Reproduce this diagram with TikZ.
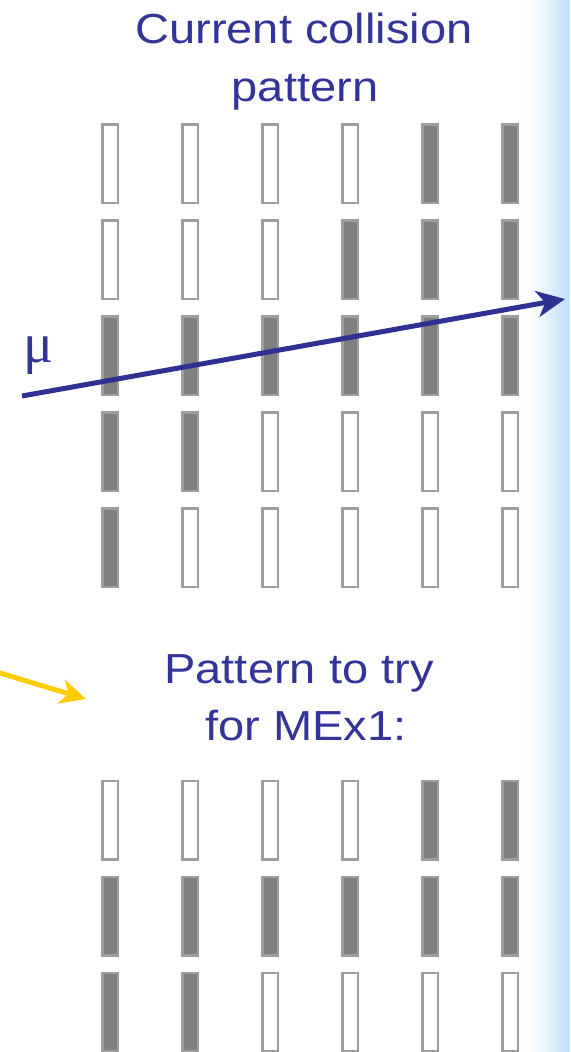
\documentclass[tikz,border=0pt]{standalone}
\usepackage{fontspec}
\usetikzlibrary{arrows.meta}
\newfontfamily\labelfont[FakeStretch=1.12]{Liberation Sans}
\newfontfamily\greekfont{Liberation Serif}
\definecolor{inkblue}{RGB}{51,51,153}
\definecolor{muonblue}{RGB}{46,49,146}
\definecolor{hitgray}{RGB}{128,128,128}
\definecolor{edgegray}{RGB}{158,158,158}
\definecolor{arrowyellow}{RGB}{255,204,0}
\definecolor{paneblue}{RGB}{198,227,248}
\begin{document}
\begin{tikzpicture}[x=1pt,y=-1pt,
  cell/.style={draw=edgegray, line width=2.5pt, fill=#1,
    minimum width=15.5pt, minimum height=78.5pt, inner sep=0pt},
  caption/.style={text=inkblue, font=\labelfont\fontsize{42}{50}\selectfont,
    inner sep=0pt, anchor=base},
  track/.style={muonblue, line width=5pt,
    -{Stealth[length=28pt,width=26pt,inset=8pt]}},
  pointer/.style={arrowyellow, line width=5pt,
    -{Stealth[length=26pt,width=25pt,inset=8pt]}}]

% page
\fill[white] (0,0) rectangle (570,1052);
% pale blue band on the right edge, built from thin strips
\foreach \i in {0,...,47}{
  \pgfmathsetmacro\t{min(1,\i/42)}
  \pgfmathtruncatemacro\p{100*\t^1.5}
  \fill[paneblue!\p!white] ({522+\i},0) rectangle ({523.2+\i},1052);
}
\useasboundingbox (0,0) rectangle (570,1052);

% headings
\node[caption] (head1) at (304,43) {Current collision};
\node[caption] (head2) at (305,101) {pattern};
\node[caption] (try1) at (299,683) {Pattern to try};
\node[caption] (try2) at (306,740) {for MEx1:};

% current collision pattern: five layers of six strips
\foreach \c/\f in {1/white,2/white,3/white,4/white,5/hitgray,6/hitgray}
  \node[cell=\f] (t1-\c) at ({30+80*\c},163.5) {};
\foreach \c/\f in {1/white,2/white,3/white,4/hitgray,5/hitgray,6/hitgray}
  \node[cell=\f] (t2-\c) at ({30+80*\c},259.5) {};
\foreach \c/\f in {1/hitgray,2/hitgray,3/hitgray,4/hitgray,5/hitgray,6/hitgray}
  \node[cell=\f] (t3-\c) at ({30+80*\c},355.5) {};
\foreach \c/\f in {1/hitgray,2/hitgray,3/white,4/white,5/white,6/white}
  \node[cell=\f] (t4-\c) at ({30+80*\c},451.5) {};
\foreach \c/\f in {1/hitgray,2/white,3/white,4/white,5/white,6/white}
  \node[cell=\f] (t5-\c) at ({30+80*\c},547.5) {};

% pattern to try
\foreach \c/\f in {1/white,2/white,3/white,4/white,5/hitgray,6/hitgray}
  \node[cell=\f] (b1-\c) at ({30+80*\c},820) {};
\foreach \c/\f in {1/hitgray,2/hitgray,3/hitgray,4/hitgray,5/hitgray,6/hitgray}
  \node[cell=\f] (b2-\c) at ({30+80*\c},916) {};
\foreach \c/\f in {1/hitgray,2/hitgray,3/white,4/white,5/white,6/white}
  \node[cell=\f] (b3-\c) at ({30+80*\c},1012) {};

% muon track
\node[text=inkblue, font=\greekfont\fontsize{56}{60}\selectfont,
  inner sep=0pt, anchor=base west] (mu) at (23,362) {μ};
\coordinate (trackstart) at (22,396);
\coordinate (trackend) at (565,299);
\draw[track] (trackstart) -- (trackend);

% yellow pointer from the left
\coordinate (pointerstart) at (-10,670);
\coordinate (pointerend) at (86,699);
\draw[pointer] (pointerstart) -- (pointerend);
\end{tikzpicture}
\end{document}
